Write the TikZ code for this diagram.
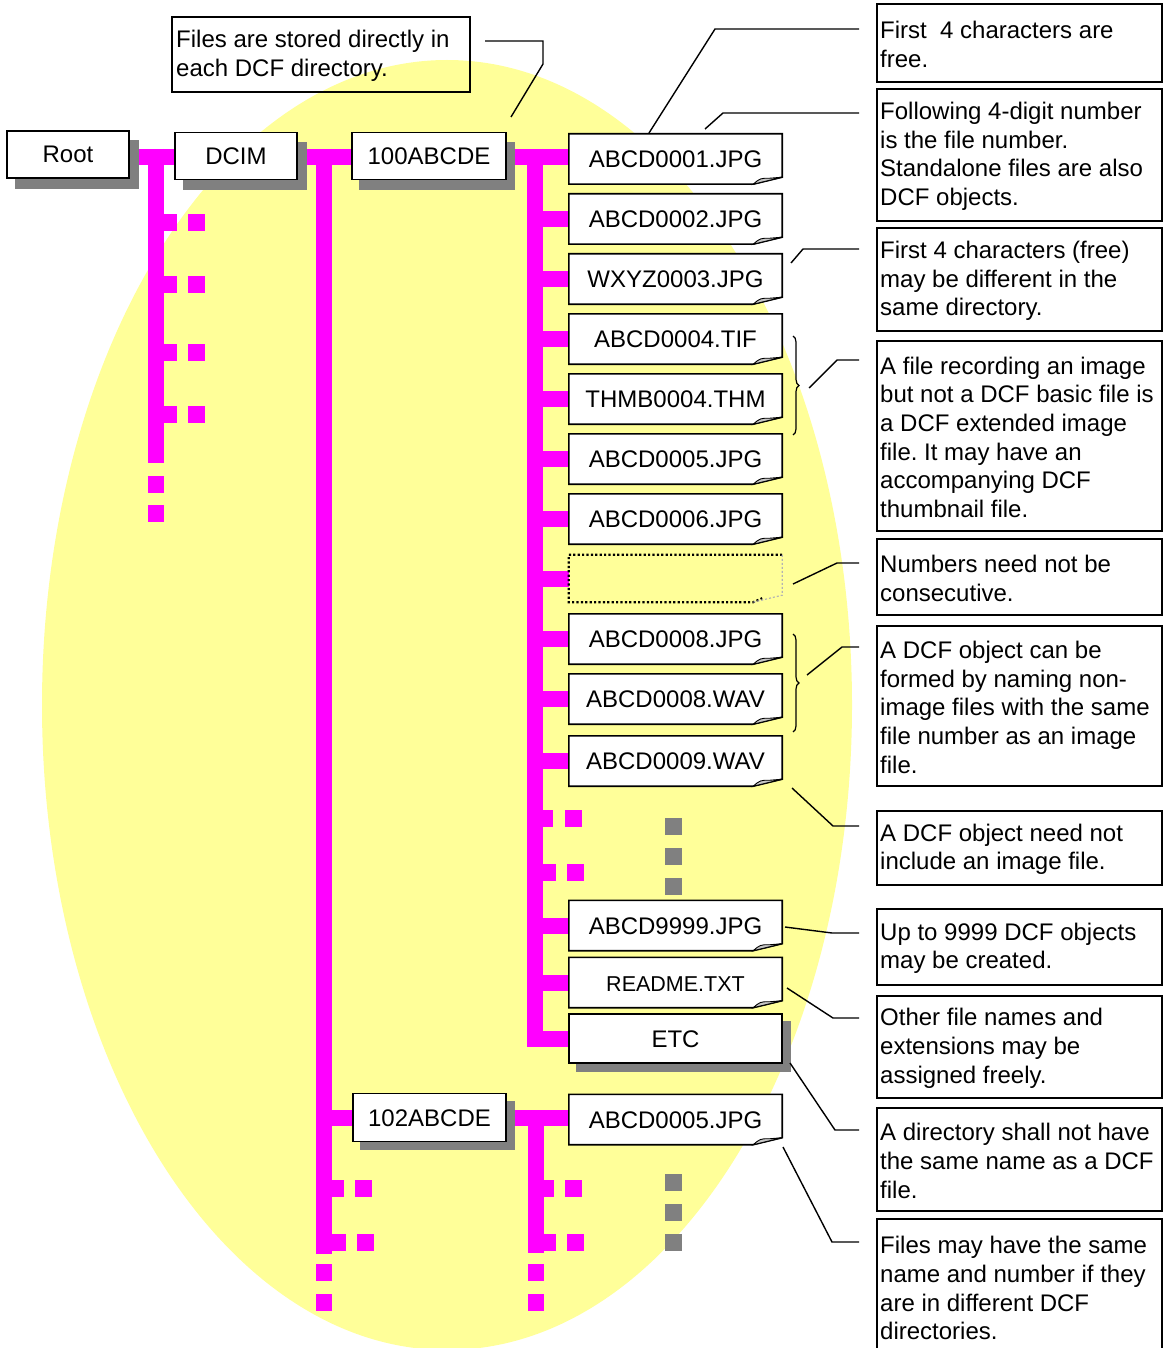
\documentclass[tikz,border=0pt]{standalone}
\usepackage{fontspec}
\setmainfont{Liberation Sans}
\frenchspacing
\usetikzlibrary{decorations.pathreplacing}
\definecolor{ell}{HTML}{FFFF99}
\definecolor{mag}{HTML}{FF00FF}
\definecolor{shd}{HTML}{808080}
\pgfdeclarelayer{back}
\pgfdeclarelayer{tree}
\pgfdeclarelayer{boxes}
\pgfsetlayers{back,tree,boxes,main}
\newcommand\dcffont{\fontsize{24}{28.7}\selectfont\frenchspacing}
\tikzset{
  dirbox/.style={draw, fill=white, line width=1.6pt, inner sep=0pt, text height=17pt, text depth=0pt, font=\dcffont},
  filebox/.style={inner sep=0pt, minimum width=213pt, minimum height=50pt, text height=17pt, text depth=0pt, font=\dcffont},
  mgl/.style={draw=mag, line width=16pt},
  mdot/.style={fill=mag},
  gdot/.style={fill=shd},
  shadowfill/.style={fill=shd},
  note/.style={draw, line width=1.6pt, minimum width=285pt, anchor=north west, inner sep=0pt},
  notetxt/.style={font=\dcffont, align=left, anchor=west, inner sep=0pt, yshift=-1.5pt},
  callout/.style={draw, line width=1.4pt, line join=miter},
  bracestyle/.style={draw, line width=1.2pt, decorate, decoration={brace, amplitude=6pt}},
}
\newcommand\filebx[3]{%
  \node[filebox] (#1) at (675.5,#2) {#3};
  \begin{pgfonlayer}{boxes}
  \filldraw[fill=white, line width=1.6pt] (#1.north west) -- (#1.north east) -- ([yshift=7pt]#1.south east) -- ([xshift=-29pt]#1.south east) -- (#1.south west) -- cycle;
  \filldraw[fill=shd!45, line width=0.9pt] ([xshift=-29pt]#1.south east) .. controls ([xshift=-22pt,yshift=6pt]#1.south east) .. ([xshift=-12pt,yshift=6pt]#1.south east) -- ([yshift=7pt]#1.south east) -- cycle;
  \end{pgfonlayer}}
\newcommand\shadowof[3]{%
  \fill[shadowfill] ([xshift=#2pt,yshift=-#3pt]#1.north west) rectangle ([xshift=#2pt,yshift=-#3pt]#1.south east);}
\begin{document}
\begin{tikzpicture}[x=1pt,y=-1pt]
\useasboundingbox (0,0) rectangle (1162,1348);
\begin{pgfonlayer}{back}
  \fill[white] (0,0) rectangle (1162,1348);
  \fill[ell] (447,705) ellipse [x radius=405pt, y radius=645pt];
\end{pgfonlayer}

% directory boxes
\node[dirbox, minimum width=122pt, minimum height=47pt] (root) at (68,154.5) {Root};
\node[dirbox, minimum width=122pt, minimum height=47pt] (dcim) at (236,156) {DCIM};
\node[dirbox, minimum width=154pt, minimum height=47pt] (d100) at (429,156) {100ABCDE};
\node[dirbox, minimum width=153pt, minimum height=48pt] (d102) at (429.5,1117.5) {102ABCDE};
\node[dirbox, minimum width=213pt, minimum height=49pt] (etc) at (675.5,1038.5) {ETC};

% file boxes
\filebx{f1}{159}{ABCD0001.JPG}
\filebx{f2}{219}{ABCD0002.JPG}
\filebx{f3}{279}{WXYZ0003.JPG}
\filebx{f4}{339}{ABCD0004.TIF}
\filebx{f5}{399}{THMB0004.THM}
\filebx{f6}{459}{ABCD0005.JPG}
\filebx{f7}{519}{ABCD0006.JPG}
\filebx{f9}{639}{ABCD0008.JPG}
\filebx{f10}{699}{ABCD0008.WAV}
\filebx{f11}{761}{ABCD0009.WAV}
\filebx{f12}{925.5}{ABCD9999.JPG}
\filebx{f13}{982.5}{{\fontsize{21.5}{25}\selectfont README.TXT}}
\filebx{f14}{1119.5}{ABCD0005.JPG}
\node[filebox, minimum height=47pt] (f8) at (675.5,578.5) {};
\draw[line width=2.2pt, dash pattern=on 2.2pt off 2.2pt] (f8.north east) -- (f8.north west) -- (f8.south west) -- ([xshift=-29pt]f8.south east) -- ([xshift=-20pt,yshift=4pt]f8.south east);
\draw[line width=1.2pt, shd!60, dash pattern=on 2pt off 2pt] (f8.north east) -- ([yshift=7pt]f8.south east) -- ([xshift=-29pt]f8.south east);

% trunk coordinates
\coordinate (t0) at (155.5,157);
\coordinate (t0e) at (155.5,463);
\coordinate (t1) at (323.5,157);
\coordinate (t1e) at (323.5,1254);
\coordinate (t2) at (535,157);
\coordinate (t3) at (535.5,1118);
\coordinate (t3e) at (535.5,1253);

\begin{pgfonlayer}{tree}
  \draw[mgl] (root.east |- t0) -- (dcim.west |- t0);
  \draw[mgl] ([yshift=8pt]t0) -- (t0e);
  \draw[mgl] (dcim.east |- t1) -- (d100.west |- t1);
  \draw[mgl] ([yshift=8pt]t1) -- (t1e);
  \draw[mgl] (t1 |- d102) -- (d102.west);
  \draw[mgl] (d100.east |- t2) -- (f1.west |- t2);
  \draw[mgl] ([yshift=8pt]t2) -- (t2 |- etc) -- (etc.west);
  \foreach \f in {f2,f3,f4,f5,f6,f7,f8,f9,f10,f11,f12,f13}
    \draw[mgl] (t2 |- \f) -- (\f.west);
  \draw[mgl] (d102.east |- t3) -- (f14.west |- t3);
  \draw[mgl] ([yshift=8pt]t3) -- (t3e);
  % dotted continuations
  \foreach \y in {214,276,344,406} {
    \fill[mdot] (163,\y) rectangle (177,\y+17);
    \fill[mdot] (188,\y) rectangle (205,\y+17);
  }
  \fill[mdot] (147.5,476) rectangle (163.5,493);
  \fill[mdot] (147.5,505) rectangle (163.5,522);
  \fill[mdot] (331,1180) rectangle (344,1197);
  \fill[mdot] (355,1180) rectangle (372,1197);
  \fill[mdot] (331,1234) rectangle (346,1251);
  \fill[mdot] (357,1234) rectangle (374,1251);
  \fill[mdot] (315.5,1264) rectangle (331.5,1281);
  \fill[mdot] (315.5,1294) rectangle (331.5,1311);
  \fill[mdot] (542,810) rectangle (553,827);
  \fill[mdot] (565,810) rectangle (582,827);
  \fill[mdot] (542,864) rectangle (556,881);
  \fill[mdot] (567,864) rectangle (584,881);
  \fill[mdot] (542,1180) rectangle (554,1197);
  \fill[mdot] (565,1180) rectangle (582,1197);
  \fill[mdot] (542,1234) rectangle (556,1251);
  \fill[mdot] (567,1234) rectangle (584,1251);
  \fill[mdot] (527.5,1264) rectangle (543.5,1281);
  \fill[mdot] (527.5,1294) rectangle (543.5,1311);
  \foreach \y in {818,848,878,1174,1204,1234}
    \fill[gdot] (665,\y) rectangle (682,\y+17);
  % shadows
  \shadowof{root}{9}{10}
  \shadowof{dcim}{9}{10}
  \shadowof{d100}{8}{10}
  \shadowof{d102}{8}{8}
  \shadowof{etc}{8}{8}
\end{pgfonlayer}

% left note
\node[note, minimum width=298pt, minimum height=75pt] (nL) at (171,16) {};
\node[notetxt] (nLt) at ([xshift=5pt]nL.west) {Files are stored directly in\\each DCF directory.};

% right notes
\node[note, minimum height=78pt] (n1) at (876,3) {};
\node[notetxt] (n1t) at ([xshift=4pt]n1.west) {First\ \ 4 characters are\\free.};
\node[note, minimum height=132pt] (n2) at (876,88) {};
\node[notetxt] (n2t) at ([xshift=4pt]n2.west) {Following 4-digit number\\is the file number.\\Standalone files are also\\DCF objects.};
\node[note, minimum height=103pt] (n3) at (876,227) {};
\node[notetxt] (n3t) at ([xshift=4pt]n3.west) {First 4 characters (free)\\may be different in the\\same directory.};
\node[note, minimum height=190pt] (n4) at (876,340) {};
\node[notetxt] (n4t) at ([xshift=4pt]n4.west) {A file recording an image\\but not a DCF basic file is\\a DCF extended image\\file. It may have an\\accompanying DCF\\thumbnail file.};
\node[note, minimum height=76pt] (n5) at (876,538) {};
\node[notetxt] (n5t) at ([xshift=4pt]n5.west) {Numbers need not be\\consecutive.};
\node[note, minimum height=160pt] (n6) at (876,625) {};
\node[notetxt] (n6t) at ([xshift=4pt]n6.west) {A DCF object can be\\formed by naming non-\\image files with the same\\file number as an image\\file.};
\node[note, minimum height=74pt] (n7) at (876,810) {};
\node[notetxt] (n7t) at ([xshift=4pt]n7.west) {A DCF object need not\\include an image file.};
\node[note, minimum height=76pt] (n8) at (876,908) {};
\node[notetxt] (n8t) at ([xshift=4pt]n8.west) {Up to 9999 DCF objects\\may be created.};
\node[note, minimum height=102pt] (n9) at (876,995) {};
\node[notetxt] (n9t) at ([xshift=4pt]n9.west) {Other file names and\\extensions may be\\assigned freely.};
\node[note, minimum height=103pt] (n10) at (876,1107) {};
\node[notetxt] (n10t) at ([xshift=4pt]n10.west) {A directory shall not have\\the same name as a DCF\\file.};
\node[note, minimum height=136pt] (n11) at (876,1218) {};
\node[notetxt] (n11t) at ([xshift=4pt]n11.west) {Files may have the same\\name and number if they\\are in different DCF\\directories.};

% callout points
\coordinate (cLa) at (485,41);  \coordinate (cLb) at (543,41);  \coordinate (cLc) at (543,64);  \coordinate (cLd) at (511,117);
\coordinate (c1a) at (859,29);  \coordinate (c1b) at (715,29);  \coordinate (c1c) at (649,133);
\coordinate (c2a) at (859,113); \coordinate (c2b) at (723,113); \coordinate (c2c) at (705,129);
\coordinate (c3a) at (859,249); \coordinate (c3b) at (803,249); \coordinate (c3c) at (791,263);
\coordinate (c4a) at (859,360); \coordinate (c4b) at (837,360); \coordinate (c4c) at (809,388);
\coordinate (c5a) at (859,563); \coordinate (c5b) at (837,563); \coordinate (c5c) at (793,584);
\coordinate (c6a) at (859,647); \coordinate (c6b) at (842,647); \coordinate (c6c) at (807,675);
\coordinate (c7a) at (859,826); \coordinate (c7b) at (833,826); \coordinate (c7c) at (792,788);
\coordinate (c8a) at (859,933); \coordinate (c8b) at (832,933); \coordinate (c8c) at (785,927);
\coordinate (c9a) at (859,1018); \coordinate (c9b) at (833,1018); \coordinate (c9c) at (787,988);
\coordinate (c10a) at (859,1130); \coordinate (c10b) at (835,1130); \coordinate (c10c) at (790,1063);
\coordinate (c11a) at (859,1242); \coordinate (c11b) at (832,1242); \coordinate (c11c) at (783,1147);

\draw[callout] (cLa) -- (cLb) -- (cLc) -- (cLd);
\foreach \i in {1,...,11}
  \draw[callout] (c\i a) -- (c\i b) -- (c\i c);

% braces
\coordinate (br1a) at (793,336); \coordinate (br1b) at (793,435);
\coordinate (br2a) at (793,634); \coordinate (br2b) at (793,732);
\draw[bracestyle] (br1a) -- (br1b);
\draw[bracestyle] (br2a) -- (br2b);
\end{tikzpicture}
\end{document}
